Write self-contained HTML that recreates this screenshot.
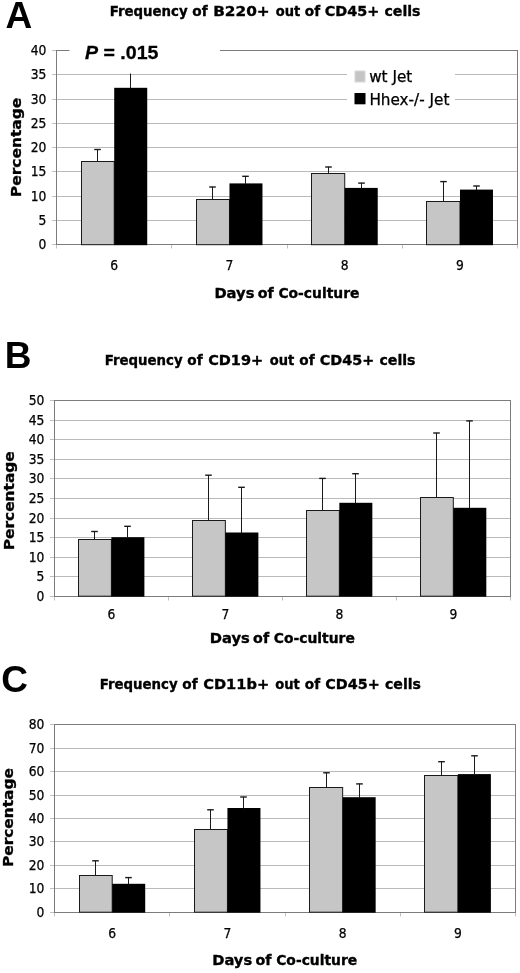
<!DOCTYPE html>
<html><head><meta charset="utf-8"><title>Figure</title>
<style>html,body{margin:0;padding:0;background:#fff}svg{display:block}</style>
</head><body>
<svg width="520" height="973" viewBox="0 0 520 973">
<g id="chart-A">
<line x1="52.1" y1="244.5" x2="56.6" y2="244.5" stroke="#c0c0c0" stroke-width="1"/>
<line x1="56.6" y1="244.5" x2="517.6" y2="244.5" stroke="#7c7c7c" stroke-width="1"/>
<text x="46.4" y="249.3" font-family="'DejaVu Sans Condensed','DejaVu Sans','Liberation Sans',sans-serif" font-size="13.7" text-anchor="end" stroke="#000" stroke-width="0.25">0</text>
<line x1="52.1" y1="220.5" x2="56.6" y2="220.5" stroke="#c0c0c0" stroke-width="1"/>
<line x1="56.6" y1="220.5" x2="517.6" y2="220.5" stroke="#bababa" stroke-width="1"/>
<text x="46.4" y="225.3" font-family="'DejaVu Sans Condensed','DejaVu Sans','Liberation Sans',sans-serif" font-size="13.7" text-anchor="end" stroke="#000" stroke-width="0.25">5</text>
<line x1="52.1" y1="196.5" x2="56.6" y2="196.5" stroke="#c0c0c0" stroke-width="1"/>
<line x1="56.6" y1="196.5" x2="517.6" y2="196.5" stroke="#bababa" stroke-width="1"/>
<text x="46.4" y="201.3" font-family="'DejaVu Sans Condensed','DejaVu Sans','Liberation Sans',sans-serif" font-size="13.7" text-anchor="end" stroke="#000" stroke-width="0.25">10</text>
<line x1="52.1" y1="171.5" x2="56.6" y2="171.5" stroke="#c0c0c0" stroke-width="1"/>
<line x1="56.6" y1="171.5" x2="517.6" y2="171.5" stroke="#bababa" stroke-width="1"/>
<text x="46.4" y="176.3" font-family="'DejaVu Sans Condensed','DejaVu Sans','Liberation Sans',sans-serif" font-size="13.7" text-anchor="end" stroke="#000" stroke-width="0.25">15</text>
<line x1="52.1" y1="147.5" x2="56.6" y2="147.5" stroke="#c0c0c0" stroke-width="1"/>
<line x1="56.6" y1="147.5" x2="517.6" y2="147.5" stroke="#bababa" stroke-width="1"/>
<text x="46.4" y="152.3" font-family="'DejaVu Sans Condensed','DejaVu Sans','Liberation Sans',sans-serif" font-size="13.7" text-anchor="end" stroke="#000" stroke-width="0.25">20</text>
<line x1="52.1" y1="123.5" x2="56.6" y2="123.5" stroke="#c0c0c0" stroke-width="1"/>
<line x1="56.6" y1="123.5" x2="517.6" y2="123.5" stroke="#bababa" stroke-width="1"/>
<text x="46.4" y="128.3" font-family="'DejaVu Sans Condensed','DejaVu Sans','Liberation Sans',sans-serif" font-size="13.7" text-anchor="end" stroke="#000" stroke-width="0.25">25</text>
<line x1="52.1" y1="99.5" x2="56.6" y2="99.5" stroke="#c0c0c0" stroke-width="1"/>
<line x1="56.6" y1="99.5" x2="347" y2="99.5" stroke="#bababa" stroke-width="1"/>
<line x1="455" y1="99.5" x2="517.6" y2="99.5" stroke="#bababa" stroke-width="1"/>
<text x="46.4" y="104.3" font-family="'DejaVu Sans Condensed','DejaVu Sans','Liberation Sans',sans-serif" font-size="13.7" text-anchor="end" stroke="#000" stroke-width="0.25">30</text>
<line x1="52.1" y1="74.5" x2="56.6" y2="74.5" stroke="#c0c0c0" stroke-width="1"/>
<line x1="56.6" y1="74.5" x2="347" y2="74.5" stroke="#bababa" stroke-width="1"/>
<line x1="455" y1="74.5" x2="517.6" y2="74.5" stroke="#bababa" stroke-width="1"/>
<text x="46.4" y="79.3" font-family="'DejaVu Sans Condensed','DejaVu Sans','Liberation Sans',sans-serif" font-size="13.7" text-anchor="end" stroke="#000" stroke-width="0.25">35</text>
<line x1="52.1" y1="50.5" x2="56.6" y2="50.5" stroke="#c0c0c0" stroke-width="1"/>
<line x1="56.6" y1="50.5" x2="69.5" y2="50.5" stroke="#7c7c7c" stroke-width="1"/>
<line x1="220" y1="50.5" x2="517.6" y2="50.5" stroke="#7c7c7c" stroke-width="1"/>
<text x="46.4" y="55.3" font-family="'DejaVu Sans Condensed','DejaVu Sans','Liberation Sans',sans-serif" font-size="13.7" text-anchor="end" stroke="#000" stroke-width="0.25">40</text>
<line x1="56.5" y1="50" x2="56.5" y2="245" stroke="#7c7c7c" stroke-width="1"/>
<line x1="517.5" y1="50" x2="517.5" y2="245" stroke="#7c7c7c" stroke-width="1"/>
<line x1="56.5" y1="245" x2="56.5" y2="248.5" stroke="#c0c0c0" stroke-width="1"/>
<line x1="517.5" y1="245" x2="517.5" y2="248.5" stroke="#c0c0c0" stroke-width="1"/>
<line x1="171.5" y1="245" x2="171.5" y2="248.5" stroke="#c0c0c0" stroke-width="1"/>
<line x1="287.5" y1="245" x2="287.5" y2="248.5" stroke="#c0c0c0" stroke-width="1"/>
<line x1="402.5" y1="245" x2="402.5" y2="248.5" stroke="#c0c0c0" stroke-width="1"/>
<text x="114.22" y="270.2" font-family="'DejaVu Sans Condensed','DejaVu Sans','Liberation Sans',sans-serif" font-size="13.7" text-anchor="middle" stroke="#000" stroke-width="0.25">6</text>
<rect x="81.5" y="161.5" width="32.72" height="83.2" fill="#c6c6c6" stroke="#1a1a1a" stroke-width="1"/>
<rect x="114.22" y="87.8" width="33" height="157.4" fill="#000"/>
<line x1="97.5" y1="149.3" x2="97.5" y2="161.5" stroke="#1a1a1a" stroke-width="1"/>
<line x1="94.2" y1="149.5" x2="100.8" y2="149.5" stroke="#1a1a1a" stroke-width="1.4"/>
<line x1="130.5" y1="73.5" x2="130.5" y2="88.3" stroke="#1a1a1a" stroke-width="1"/>
<text x="229.47" y="270.2" font-family="'DejaVu Sans Condensed','DejaVu Sans','Liberation Sans',sans-serif" font-size="13.7" text-anchor="middle" stroke="#000" stroke-width="0.25">7</text>
<rect x="196.5" y="199.5" width="32.97" height="45.2" fill="#c6c6c6" stroke="#1a1a1a" stroke-width="1"/>
<rect x="229.47" y="183.4" width="33" height="61.8" fill="#000"/>
<line x1="212.5" y1="186.8" x2="212.5" y2="199.5" stroke="#1a1a1a" stroke-width="1"/>
<line x1="209.2" y1="187" x2="215.8" y2="187" stroke="#1a1a1a" stroke-width="1.4"/>
<line x1="245.5" y1="176.1" x2="245.5" y2="183.9" stroke="#1a1a1a" stroke-width="1"/>
<line x1="242.2" y1="176.3" x2="248.8" y2="176.3" stroke="#1a1a1a" stroke-width="1.4"/>
<text x="344.73" y="270.2" font-family="'DejaVu Sans Condensed','DejaVu Sans','Liberation Sans',sans-serif" font-size="13.7" text-anchor="middle" stroke="#000" stroke-width="0.25">8</text>
<rect x="311.5" y="173.5" width="33.23" height="71.2" fill="#c6c6c6" stroke="#1a1a1a" stroke-width="1"/>
<rect x="344.73" y="187.9" width="33" height="57.3" fill="#000"/>
<line x1="328.5" y1="166.8" x2="328.5" y2="173.5" stroke="#1a1a1a" stroke-width="1"/>
<line x1="325.2" y1="167" x2="331.8" y2="167" stroke="#1a1a1a" stroke-width="1.4"/>
<line x1="361.5" y1="182.9" x2="361.5" y2="188.4" stroke="#1a1a1a" stroke-width="1"/>
<line x1="358.2" y1="183.1" x2="364.8" y2="183.1" stroke="#1a1a1a" stroke-width="1.4"/>
<text x="459.98" y="270.2" font-family="'DejaVu Sans Condensed','DejaVu Sans','Liberation Sans',sans-serif" font-size="13.7" text-anchor="middle" stroke="#000" stroke-width="0.25">9</text>
<rect x="426.5" y="201.5" width="33.48" height="43.2" fill="#c6c6c6" stroke="#1a1a1a" stroke-width="1"/>
<rect x="459.98" y="189.6" width="33" height="55.6" fill="#000"/>
<line x1="443.5" y1="181.4" x2="443.5" y2="201.5" stroke="#1a1a1a" stroke-width="1"/>
<line x1="440.2" y1="181.6" x2="446.8" y2="181.6" stroke="#1a1a1a" stroke-width="1.4"/>
<line x1="476.5" y1="185.8" x2="476.5" y2="190.1" stroke="#1a1a1a" stroke-width="1"/>
<line x1="473.2" y1="186" x2="479.8" y2="186" stroke="#1a1a1a" stroke-width="1.4"/>
<text y="16.3" font-family="'DejaVu Sans','Liberation Sans',sans-serif" font-size="14" font-weight="bold" stroke="#000" stroke-width="0.35"><tspan x="109.7" textLength="78" lengthAdjust="spacingAndGlyphs">Frequency</tspan> <tspan x="192.3" textLength="15.3" lengthAdjust="spacingAndGlyphs">of</tspan> <tspan x="213.2" textLength="56.5" lengthAdjust="spacingAndGlyphs">B220+</tspan> <tspan x="275.8" textLength="24.5" lengthAdjust="spacingAndGlyphs">out</tspan> <tspan x="304.8" textLength="15.3" lengthAdjust="spacingAndGlyphs">of</tspan> <tspan x="324.7" textLength="54.5" lengthAdjust="spacingAndGlyphs">CD45+</tspan> <tspan x="384.5" textLength="36" lengthAdjust="spacingAndGlyphs">cells</tspan></text>
<text y="297.5" font-family="'DejaVu Sans','Liberation Sans',sans-serif" font-size="14" font-weight="bold" stroke="#000" stroke-width="0.35"><tspan x="214.4" textLength="40" lengthAdjust="spacingAndGlyphs">Days</tspan> <tspan x="257.7" textLength="16" lengthAdjust="spacingAndGlyphs">of</tspan> <tspan x="278.4" textLength="81" lengthAdjust="spacingAndGlyphs">Co-culture</tspan></text>
<text transform="translate(20.5,147.4) rotate(-90)" font-family="'DejaVu Sans','Liberation Sans',sans-serif" font-size="13.8" font-weight="bold" stroke="#000" stroke-width="0.3" text-anchor="middle" textLength="99.5" lengthAdjust="spacingAndGlyphs">Percentage</text>
<text x="5.5" y="27.8" font-family="'Liberation Sans',Arial,sans-serif" font-size="37" font-weight="bold">A</text>
</g>
<g id="chart-B">
<line x1="49.9" y1="596.5" x2="54.4" y2="596.5" stroke="#c0c0c0" stroke-width="1"/>
<line x1="54.4" y1="596.5" x2="510.3" y2="596.5" stroke="#7c7c7c" stroke-width="1"/>
<text x="44.4" y="601.3" font-family="'DejaVu Sans Condensed','DejaVu Sans','Liberation Sans',sans-serif" font-size="13.7" text-anchor="end" stroke="#000" stroke-width="0.25">0</text>
<line x1="49.9" y1="576.5" x2="54.4" y2="576.5" stroke="#c0c0c0" stroke-width="1"/>
<line x1="54.4" y1="576.5" x2="510.3" y2="576.5" stroke="#bababa" stroke-width="1"/>
<text x="44.4" y="581.3" font-family="'DejaVu Sans Condensed','DejaVu Sans','Liberation Sans',sans-serif" font-size="13.7" text-anchor="end" stroke="#000" stroke-width="0.25">5</text>
<line x1="49.9" y1="557.5" x2="54.4" y2="557.5" stroke="#c0c0c0" stroke-width="1"/>
<line x1="54.4" y1="557.5" x2="510.3" y2="557.5" stroke="#bababa" stroke-width="1"/>
<text x="44.4" y="562.3" font-family="'DejaVu Sans Condensed','DejaVu Sans','Liberation Sans',sans-serif" font-size="13.7" text-anchor="end" stroke="#000" stroke-width="0.25">10</text>
<line x1="49.9" y1="537.5" x2="54.4" y2="537.5" stroke="#c0c0c0" stroke-width="1"/>
<line x1="54.4" y1="537.5" x2="510.3" y2="537.5" stroke="#bababa" stroke-width="1"/>
<text x="44.4" y="542.3" font-family="'DejaVu Sans Condensed','DejaVu Sans','Liberation Sans',sans-serif" font-size="13.7" text-anchor="end" stroke="#000" stroke-width="0.25">15</text>
<line x1="49.9" y1="518.5" x2="54.4" y2="518.5" stroke="#c0c0c0" stroke-width="1"/>
<line x1="54.4" y1="518.5" x2="510.3" y2="518.5" stroke="#bababa" stroke-width="1"/>
<text x="44.4" y="523.3" font-family="'DejaVu Sans Condensed','DejaVu Sans','Liberation Sans',sans-serif" font-size="13.7" text-anchor="end" stroke="#000" stroke-width="0.25">20</text>
<line x1="49.9" y1="498.5" x2="54.4" y2="498.5" stroke="#c0c0c0" stroke-width="1"/>
<line x1="54.4" y1="498.5" x2="510.3" y2="498.5" stroke="#bababa" stroke-width="1"/>
<text x="44.4" y="503.3" font-family="'DejaVu Sans Condensed','DejaVu Sans','Liberation Sans',sans-serif" font-size="13.7" text-anchor="end" stroke="#000" stroke-width="0.25">25</text>
<line x1="49.9" y1="478.5" x2="54.4" y2="478.5" stroke="#c0c0c0" stroke-width="1"/>
<line x1="54.4" y1="478.5" x2="510.3" y2="478.5" stroke="#bababa" stroke-width="1"/>
<text x="44.4" y="483.3" font-family="'DejaVu Sans Condensed','DejaVu Sans','Liberation Sans',sans-serif" font-size="13.7" text-anchor="end" stroke="#000" stroke-width="0.25">30</text>
<line x1="49.9" y1="459.5" x2="54.4" y2="459.5" stroke="#c0c0c0" stroke-width="1"/>
<line x1="54.4" y1="459.5" x2="510.3" y2="459.5" stroke="#bababa" stroke-width="1"/>
<text x="44.4" y="464.3" font-family="'DejaVu Sans Condensed','DejaVu Sans','Liberation Sans',sans-serif" font-size="13.7" text-anchor="end" stroke="#000" stroke-width="0.25">35</text>
<line x1="49.9" y1="439.5" x2="54.4" y2="439.5" stroke="#c0c0c0" stroke-width="1"/>
<line x1="54.4" y1="439.5" x2="510.3" y2="439.5" stroke="#bababa" stroke-width="1"/>
<text x="44.4" y="444.3" font-family="'DejaVu Sans Condensed','DejaVu Sans','Liberation Sans',sans-serif" font-size="13.7" text-anchor="end" stroke="#000" stroke-width="0.25">40</text>
<line x1="49.9" y1="420.5" x2="54.4" y2="420.5" stroke="#c0c0c0" stroke-width="1"/>
<line x1="54.4" y1="420.5" x2="510.3" y2="420.5" stroke="#bababa" stroke-width="1"/>
<text x="44.4" y="425.3" font-family="'DejaVu Sans Condensed','DejaVu Sans','Liberation Sans',sans-serif" font-size="13.7" text-anchor="end" stroke="#000" stroke-width="0.25">45</text>
<line x1="49.9" y1="400.5" x2="54.4" y2="400.5" stroke="#c0c0c0" stroke-width="1"/>
<line x1="54.4" y1="400.5" x2="510.3" y2="400.5" stroke="#7c7c7c" stroke-width="1"/>
<text x="44.4" y="405.3" font-family="'DejaVu Sans Condensed','DejaVu Sans','Liberation Sans',sans-serif" font-size="13.7" text-anchor="end" stroke="#000" stroke-width="0.25">50</text>
<line x1="54.5" y1="400" x2="54.5" y2="597" stroke="#7c7c7c" stroke-width="1"/>
<line x1="510.5" y1="400" x2="510.5" y2="597" stroke="#7c7c7c" stroke-width="1"/>
<line x1="54.5" y1="597" x2="54.5" y2="600.5" stroke="#c0c0c0" stroke-width="1"/>
<line x1="510.5" y1="597" x2="510.5" y2="600.5" stroke="#c0c0c0" stroke-width="1"/>
<line x1="168.5" y1="597" x2="168.5" y2="600.5" stroke="#c0c0c0" stroke-width="1"/>
<line x1="282.5" y1="597" x2="282.5" y2="600.5" stroke="#c0c0c0" stroke-width="1"/>
<line x1="396.5" y1="597" x2="396.5" y2="600.5" stroke="#c0c0c0" stroke-width="1"/>
<text x="111.39" y="618.7" font-family="'DejaVu Sans Condensed','DejaVu Sans','Liberation Sans',sans-serif" font-size="13.7" text-anchor="middle" stroke="#000" stroke-width="0.25">6</text>
<rect x="78.5" y="539.5" width="32.89" height="56.7" fill="#c6c6c6" stroke="#1a1a1a" stroke-width="1"/>
<rect x="111.39" y="537.2" width="33" height="59.5" fill="#000"/>
<line x1="94.5" y1="531.3" x2="94.5" y2="539.5" stroke="#1a1a1a" stroke-width="1"/>
<line x1="91.2" y1="531.5" x2="97.8" y2="531.5" stroke="#1a1a1a" stroke-width="1.4"/>
<line x1="127.5" y1="526.1" x2="127.5" y2="537.7" stroke="#1a1a1a" stroke-width="1"/>
<line x1="124.2" y1="526.3" x2="130.8" y2="526.3" stroke="#1a1a1a" stroke-width="1.4"/>
<text x="225.36" y="618.7" font-family="'DejaVu Sans Condensed','DejaVu Sans','Liberation Sans',sans-serif" font-size="13.7" text-anchor="middle" stroke="#000" stroke-width="0.25">7</text>
<rect x="192.5" y="520.5" width="32.86" height="75.7" fill="#c6c6c6" stroke="#1a1a1a" stroke-width="1"/>
<rect x="225.36" y="532.5" width="33" height="64.2" fill="#000"/>
<line x1="208.5" y1="475" x2="208.5" y2="520.5" stroke="#1a1a1a" stroke-width="1"/>
<line x1="205.2" y1="475.2" x2="211.8" y2="475.2" stroke="#1a1a1a" stroke-width="1.4"/>
<line x1="241.5" y1="487.1" x2="241.5" y2="533" stroke="#1a1a1a" stroke-width="1"/>
<line x1="238.2" y1="487.3" x2="244.8" y2="487.3" stroke="#1a1a1a" stroke-width="1.4"/>
<text x="339.34" y="618.7" font-family="'DejaVu Sans Condensed','DejaVu Sans','Liberation Sans',sans-serif" font-size="13.7" text-anchor="middle" stroke="#000" stroke-width="0.25">8</text>
<rect x="306.5" y="510.5" width="32.84" height="85.7" fill="#c6c6c6" stroke="#1a1a1a" stroke-width="1"/>
<rect x="339.34" y="502.8" width="33" height="93.9" fill="#000"/>
<line x1="322.5" y1="478.2" x2="322.5" y2="510.5" stroke="#1a1a1a" stroke-width="1"/>
<line x1="319.2" y1="478.4" x2="325.8" y2="478.4" stroke="#1a1a1a" stroke-width="1.4"/>
<line x1="355.5" y1="473.5" x2="355.5" y2="503.3" stroke="#1a1a1a" stroke-width="1"/>
<line x1="352.2" y1="473.7" x2="358.8" y2="473.7" stroke="#1a1a1a" stroke-width="1.4"/>
<text x="453.31" y="618.7" font-family="'DejaVu Sans Condensed','DejaVu Sans','Liberation Sans',sans-serif" font-size="13.7" text-anchor="middle" stroke="#000" stroke-width="0.25">9</text>
<rect x="420.5" y="497.5" width="32.81" height="98.7" fill="#c6c6c6" stroke="#1a1a1a" stroke-width="1"/>
<rect x="453.31" y="507.8" width="33" height="88.9" fill="#000"/>
<line x1="436.5" y1="432.8" x2="436.5" y2="497.5" stroke="#1a1a1a" stroke-width="1"/>
<line x1="433.2" y1="433" x2="439.8" y2="433" stroke="#1a1a1a" stroke-width="1.4"/>
<line x1="469.5" y1="420.7" x2="469.5" y2="508.3" stroke="#1a1a1a" stroke-width="1"/>
<line x1="466.2" y1="420.9" x2="472.8" y2="420.9" stroke="#1a1a1a" stroke-width="1.4"/>
<text y="364.7" font-family="'DejaVu Sans','Liberation Sans',sans-serif" font-size="14" font-weight="bold" stroke="#000" stroke-width="0.35"><tspan x="104.7" textLength="78" lengthAdjust="spacingAndGlyphs">Frequency</tspan> <tspan x="187.3" textLength="15.3" lengthAdjust="spacingAndGlyphs">of</tspan> <tspan x="208.2" textLength="55" lengthAdjust="spacingAndGlyphs">CD19+</tspan> <tspan x="269.8" textLength="24.5" lengthAdjust="spacingAndGlyphs">out</tspan> <tspan x="299.3" textLength="15.3" lengthAdjust="spacingAndGlyphs">of</tspan> <tspan x="319.7" textLength="54.5" lengthAdjust="spacingAndGlyphs">CD45+</tspan> <tspan x="379.5" textLength="36" lengthAdjust="spacingAndGlyphs">cells</tspan></text>
<text y="642.5" font-family="'DejaVu Sans','Liberation Sans',sans-serif" font-size="14" font-weight="bold" stroke="#000" stroke-width="0.35"><tspan x="209.8" textLength="40" lengthAdjust="spacingAndGlyphs">Days</tspan> <tspan x="253.1" textLength="16" lengthAdjust="spacingAndGlyphs">of</tspan> <tspan x="273.8" textLength="81" lengthAdjust="spacingAndGlyphs">Co-culture</tspan></text>
<text transform="translate(14,500.8) rotate(-90)" font-family="'DejaVu Sans','Liberation Sans',sans-serif" font-size="13.8" font-weight="bold" stroke="#000" stroke-width="0.3" text-anchor="middle" textLength="99" lengthAdjust="spacingAndGlyphs">Percentage</text>
<text x="4.8" y="367.9" font-family="'Liberation Sans',Arial,sans-serif" font-size="37" font-weight="bold">B</text>
</g>
<g id="chart-C">
<line x1="50.1" y1="912.5" x2="54.6" y2="912.5" stroke="#c0c0c0" stroke-width="1"/>
<line x1="54.6" y1="912.5" x2="515.5" y2="912.5" stroke="#7c7c7c" stroke-width="1"/>
<text x="44.4" y="917.3" font-family="'DejaVu Sans Condensed','DejaVu Sans','Liberation Sans',sans-serif" font-size="13.7" text-anchor="end" stroke="#000" stroke-width="0.25">0</text>
<line x1="50.1" y1="888.5" x2="54.6" y2="888.5" stroke="#c0c0c0" stroke-width="1"/>
<line x1="54.6" y1="888.5" x2="515.5" y2="888.5" stroke="#bababa" stroke-width="1"/>
<text x="44.4" y="893.3" font-family="'DejaVu Sans Condensed','DejaVu Sans','Liberation Sans',sans-serif" font-size="13.7" text-anchor="end" stroke="#000" stroke-width="0.25">10</text>
<line x1="50.1" y1="865.5" x2="54.6" y2="865.5" stroke="#c0c0c0" stroke-width="1"/>
<line x1="54.6" y1="865.5" x2="515.5" y2="865.5" stroke="#bababa" stroke-width="1"/>
<text x="44.4" y="870.3" font-family="'DejaVu Sans Condensed','DejaVu Sans','Liberation Sans',sans-serif" font-size="13.7" text-anchor="end" stroke="#000" stroke-width="0.25">20</text>
<line x1="50.1" y1="841.5" x2="54.6" y2="841.5" stroke="#c0c0c0" stroke-width="1"/>
<line x1="54.6" y1="841.5" x2="515.5" y2="841.5" stroke="#bababa" stroke-width="1"/>
<text x="44.4" y="846.3" font-family="'DejaVu Sans Condensed','DejaVu Sans','Liberation Sans',sans-serif" font-size="13.7" text-anchor="end" stroke="#000" stroke-width="0.25">30</text>
<line x1="50.1" y1="818.5" x2="54.6" y2="818.5" stroke="#c0c0c0" stroke-width="1"/>
<line x1="54.6" y1="818.5" x2="515.5" y2="818.5" stroke="#bababa" stroke-width="1"/>
<text x="44.4" y="823.3" font-family="'DejaVu Sans Condensed','DejaVu Sans','Liberation Sans',sans-serif" font-size="13.7" text-anchor="end" stroke="#000" stroke-width="0.25">40</text>
<line x1="50.1" y1="795.5" x2="54.6" y2="795.5" stroke="#c0c0c0" stroke-width="1"/>
<line x1="54.6" y1="795.5" x2="515.5" y2="795.5" stroke="#bababa" stroke-width="1"/>
<text x="44.4" y="800.3" font-family="'DejaVu Sans Condensed','DejaVu Sans','Liberation Sans',sans-serif" font-size="13.7" text-anchor="end" stroke="#000" stroke-width="0.25">50</text>
<line x1="50.1" y1="771.5" x2="54.6" y2="771.5" stroke="#c0c0c0" stroke-width="1"/>
<line x1="54.6" y1="771.5" x2="515.5" y2="771.5" stroke="#bababa" stroke-width="1"/>
<text x="44.4" y="776.3" font-family="'DejaVu Sans Condensed','DejaVu Sans','Liberation Sans',sans-serif" font-size="13.7" text-anchor="end" stroke="#000" stroke-width="0.25">60</text>
<line x1="50.1" y1="748.5" x2="54.6" y2="748.5" stroke="#c0c0c0" stroke-width="1"/>
<line x1="54.6" y1="748.5" x2="515.5" y2="748.5" stroke="#bababa" stroke-width="1"/>
<text x="44.4" y="753.3" font-family="'DejaVu Sans Condensed','DejaVu Sans','Liberation Sans',sans-serif" font-size="13.7" text-anchor="end" stroke="#000" stroke-width="0.25">70</text>
<line x1="50.1" y1="724.5" x2="54.6" y2="724.5" stroke="#c0c0c0" stroke-width="1"/>
<line x1="54.6" y1="724.5" x2="515.5" y2="724.5" stroke="#7c7c7c" stroke-width="1"/>
<text x="44.4" y="729.3" font-family="'DejaVu Sans Condensed','DejaVu Sans','Liberation Sans',sans-serif" font-size="13.7" text-anchor="end" stroke="#000" stroke-width="0.25">80</text>
<line x1="54.5" y1="724" x2="54.5" y2="913" stroke="#7c7c7c" stroke-width="1"/>
<line x1="515.5" y1="724" x2="515.5" y2="913" stroke="#7c7c7c" stroke-width="1"/>
<line x1="54.5" y1="913" x2="54.5" y2="916.5" stroke="#c0c0c0" stroke-width="1"/>
<line x1="515.5" y1="913" x2="515.5" y2="916.5" stroke="#c0c0c0" stroke-width="1"/>
<line x1="169.5" y1="913" x2="169.5" y2="916.5" stroke="#c0c0c0" stroke-width="1"/>
<line x1="285.5" y1="913" x2="285.5" y2="916.5" stroke="#c0c0c0" stroke-width="1"/>
<line x1="400.5" y1="913" x2="400.5" y2="916.5" stroke="#c0c0c0" stroke-width="1"/>
<text x="112.21" y="938.2" font-family="'DejaVu Sans Condensed','DejaVu Sans','Liberation Sans',sans-serif" font-size="13.7" text-anchor="middle" stroke="#000" stroke-width="0.25">6</text>
<rect x="79.5" y="875.5" width="32.71" height="36.7" fill="#c6c6c6" stroke="#1a1a1a" stroke-width="1"/>
<rect x="112.21" y="883.8" width="33" height="28.9" fill="#000"/>
<line x1="95.5" y1="860.6" x2="95.5" y2="875.5" stroke="#1a1a1a" stroke-width="1"/>
<line x1="92.2" y1="860.8" x2="98.8" y2="860.8" stroke="#1a1a1a" stroke-width="1.4"/>
<line x1="128.5" y1="877.4" x2="128.5" y2="884.3" stroke="#1a1a1a" stroke-width="1"/>
<line x1="125.2" y1="877.6" x2="131.8" y2="877.6" stroke="#1a1a1a" stroke-width="1.4"/>
<text x="227.44" y="938.2" font-family="'DejaVu Sans Condensed','DejaVu Sans','Liberation Sans',sans-serif" font-size="13.7" text-anchor="middle" stroke="#000" stroke-width="0.25">7</text>
<rect x="194.5" y="829.5" width="32.94" height="82.7" fill="#c6c6c6" stroke="#1a1a1a" stroke-width="1"/>
<rect x="227.44" y="808" width="33" height="104.7" fill="#000"/>
<line x1="210.5" y1="809.6" x2="210.5" y2="829.5" stroke="#1a1a1a" stroke-width="1"/>
<line x1="207.2" y1="809.8" x2="213.8" y2="809.8" stroke="#1a1a1a" stroke-width="1.4"/>
<line x1="243.5" y1="796.8" x2="243.5" y2="808.5" stroke="#1a1a1a" stroke-width="1"/>
<line x1="240.2" y1="797" x2="246.8" y2="797" stroke="#1a1a1a" stroke-width="1.4"/>
<text x="342.66" y="938.2" font-family="'DejaVu Sans Condensed','DejaVu Sans','Liberation Sans',sans-serif" font-size="13.7" text-anchor="middle" stroke="#000" stroke-width="0.25">8</text>
<rect x="309.5" y="787.5" width="33.16" height="124.7" fill="#c6c6c6" stroke="#1a1a1a" stroke-width="1"/>
<rect x="342.66" y="797.2" width="33" height="115.5" fill="#000"/>
<line x1="326.5" y1="772.6" x2="326.5" y2="787.5" stroke="#1a1a1a" stroke-width="1"/>
<line x1="323.2" y1="772.8" x2="329.8" y2="772.8" stroke="#1a1a1a" stroke-width="1.4"/>
<line x1="359.5" y1="783.7" x2="359.5" y2="797.7" stroke="#1a1a1a" stroke-width="1"/>
<line x1="356.2" y1="783.9" x2="362.8" y2="783.9" stroke="#1a1a1a" stroke-width="1.4"/>
<text x="457.89" y="938.2" font-family="'DejaVu Sans Condensed','DejaVu Sans','Liberation Sans',sans-serif" font-size="13.7" text-anchor="middle" stroke="#000" stroke-width="0.25">9</text>
<rect x="424.5" y="775.5" width="33.39" height="136.7" fill="#c6c6c6" stroke="#1a1a1a" stroke-width="1"/>
<rect x="457.89" y="774.1" width="33" height="138.6" fill="#000"/>
<line x1="441.5" y1="761.5" x2="441.5" y2="775.5" stroke="#1a1a1a" stroke-width="1"/>
<line x1="438.2" y1="761.7" x2="444.8" y2="761.7" stroke="#1a1a1a" stroke-width="1.4"/>
<line x1="474.5" y1="755.6" x2="474.5" y2="774.6" stroke="#1a1a1a" stroke-width="1"/>
<line x1="471.2" y1="755.8" x2="477.8" y2="755.8" stroke="#1a1a1a" stroke-width="1.4"/>
<text y="689.2" font-family="'DejaVu Sans','Liberation Sans',sans-serif" font-size="14" font-weight="bold" stroke="#000" stroke-width="0.35"><tspan x="99.7" textLength="78" lengthAdjust="spacingAndGlyphs">Frequency</tspan> <tspan x="182.3" textLength="15.3" lengthAdjust="spacingAndGlyphs">of</tspan> <tspan x="203.2" textLength="66" lengthAdjust="spacingAndGlyphs">CD11b+</tspan> <tspan x="275.3" textLength="24.5" lengthAdjust="spacingAndGlyphs">out</tspan> <tspan x="304.8" textLength="15.3" lengthAdjust="spacingAndGlyphs">of</tspan> <tspan x="325.2" textLength="54.5" lengthAdjust="spacingAndGlyphs">CD45+</tspan> <tspan x="385" textLength="36" lengthAdjust="spacingAndGlyphs">cells</tspan></text>
<text y="965" font-family="'DejaVu Sans','Liberation Sans',sans-serif" font-size="14" font-weight="bold" stroke="#000" stroke-width="0.35"><tspan x="212.2" textLength="40" lengthAdjust="spacingAndGlyphs">Days</tspan> <tspan x="255.5" textLength="16" lengthAdjust="spacingAndGlyphs">of</tspan> <tspan x="276.2" textLength="81" lengthAdjust="spacingAndGlyphs">Co-culture</tspan></text>
<text transform="translate(12.7,817.6) rotate(-90)" font-family="'DejaVu Sans','Liberation Sans',sans-serif" font-size="13.8" font-weight="bold" stroke="#000" stroke-width="0.3" text-anchor="middle" textLength="99" lengthAdjust="spacingAndGlyphs">Percentage</text>
<text x="1.2" y="691.8" font-family="'Liberation Sans',Arial,sans-serif" font-size="37" font-weight="bold">C</text>
</g>
<g id="legend">
<rect x="355" y="71" width="10" height="11" fill="#c4c4c4" stroke="#d8d8d8" stroke-width="1"/>
<rect x="354.5" y="93" width="11" height="11.3" fill="#000"/>
<text x="369.2" y="82.2" font-family="'DejaVu Sans Condensed','DejaVu Sans','Liberation Sans',sans-serif" font-size="15.3" textLength="43" lengthAdjust="spacingAndGlyphs" stroke="#000" stroke-width="0.25">wt Jet</text>
<text x="369.4" y="104.5" font-family="'DejaVu Sans Condensed','DejaVu Sans','Liberation Sans',sans-serif" font-size="15.3" textLength="80" lengthAdjust="spacingAndGlyphs" stroke="#000" stroke-width="0.25">Hhex-/- Jet</text>
</g>
<text x="85" y="59.2" font-family="'Liberation Sans',Arial,sans-serif" font-size="19" font-weight="bold" textLength="73.5" lengthAdjust="spacingAndGlyphs" stroke="#000" stroke-width="0.3"><tspan font-style="italic">P</tspan> = .015</text>
</svg>
</body></html>
